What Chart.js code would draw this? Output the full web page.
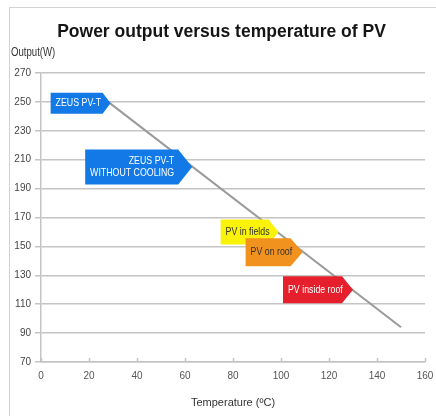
<!DOCTYPE html>
<html>
<head>
<meta charset="utf-8">
<script src="https://cdn.jsdelivr.net/npm/chart.js@4.4.1/dist/chart.umd.min.js"></script>
<style>
  html, body { margin: 0; padding: 0; background: #fff; }
  #wrap { width: 436px; height: 416px; }
</style>
</head>
<body>
<div id="wrap"><canvas id="pvChart" width="436" height="416"></canvas></div>
<script>
// Line endpoints: temperature (ºC) vs output (W)
const lineTemps = [28, 150];
const lineOutputs = [250, 94];

// Callouts, tip placed at (temperature, output)
const calloutLabels = [['ZEUS PV-T'], ['ZEUS PV-T', 'WITHOUT COOLING'], ['PV in fields'], ['PV on roof'], ['PV inside roof']];
const calloutTemps = [29, 63, 99, 109, 130];
const calloutOutputs = [249, 205, 160, 146, 120];

const yTicks = [70, 90, 110, 130, 150, 170, 190, 210, 230, 250, 270];
const xTicks = [0, 20, 40, 60, 80, 100, 120, 140, 160];

// box styles for the callouts (width, height, tip length, fill, text colour, align)
const calloutStyles = [
  { w: 60, h: 21, tip: 8, fill: '#1279e6', color: '#fff', align: 'left' },
  { w: 107, h: 35, tip: 14, fill: '#1279e6', color: '#fff', align: 'right' },
  { w: 58, h: 25, tip: 10, fill: '#fbf20a', color: '#333', align: 'left' },
  { w: 57, h: 28, tip: 12, fill: '#f2921e', color: '#333', align: 'left' },
  { w: 70, h: 27, tip: 11, fill: '#e51f2b', color: '#fff', align: 'left' }
];

const sans = "'Liberation Sans', Arial, sans-serif";

// draw text squeezed horizontally, the original uses a condensed face
function narrowText(ctx, text, x, y, align) {
  ctx.save();
  ctx.translate(x, y);
  ctx.scale(0.8, 1);
  ctx.textAlign = align;
  ctx.fillText(text, 0, 0);
  ctx.restore();
}

const calloutPlugin = {
  id: 'callouts',
  beforeDraw(chart) {
    const ctx = chart.ctx;
    ctx.save();
    ctx.strokeStyle = '#d2d2d2';
    ctx.lineWidth = 1;
    ctx.strokeRect(9.5, 7.5, 600, 600);
    ctx.fillStyle = '#333';
    ctx.font = "12px " + sans;
    ctx.textBaseline = 'middle';
    narrowText(ctx, 'Output(W)', 11, 53, 'left');
    ctx.restore();
  },
  afterDatasetsDraw(chart) {
    const ctx = chart.ctx;
    const xs = chart.scales.x, ys = chart.scales.y;
    ctx.save();
    // small tick marks standing up from the x axis
    ctx.strokeStyle = '#c4c4c4';
    ctx.lineWidth = 1.5;
    xTicks.forEach(v => {
      const px = Math.round(xs.getPixelForValue(v)) + 0.5;
      ctx.beginPath();
      ctx.moveTo(px, ys.bottom);
      ctx.lineTo(px, ys.bottom - 4);
      ctx.stroke();
    });
    calloutLabels.forEach((lines, i) => {
      const st = calloutStyles[i];
      const tx = xs.getPixelForValue(calloutTemps[i]);
      const ty = ys.getPixelForValue(calloutOutputs[i]);
      const left = tx - st.w, top = ty - st.h / 2, bottom = ty + st.h / 2;
      const rectRight = tx - st.tip;
      ctx.beginPath();
      ctx.moveTo(left, top);
      ctx.lineTo(rectRight, top);
      ctx.lineTo(tx, ty);
      ctx.lineTo(rectRight, bottom);
      ctx.lineTo(left, bottom);
      ctx.closePath();
      ctx.fillStyle = st.fill;
      ctx.fill();
      ctx.fillStyle = st.color;
      ctx.font = "11px " + sans;
      ctx.textBaseline = 'middle';
      const lh = 12;
      const y0 = ty - (lines.length - 1) * lh / 2;
      lines.forEach((t, j) => {
        if (st.align === 'right') {
          narrowText(ctx, t, rectRight - 4, y0 + j * lh, 'right');
        } else {
          narrowText(ctx, t, left + 5, y0 + j * lh, 'left');
        }
      });
    });
    ctx.restore();
  }
};

const ctx = document.getElementById('pvChart').getContext('2d');
const pvChart = new Chart(ctx, {
  type: 'line',
  data: {
    datasets: [{
      label: 'Output',
      data: lineTemps.map((t, i) => ({ x: t, y: lineOutputs[i] })),
      borderColor: '#9a9a9a',
      borderWidth: 2,
      pointRadius: 0,
      tension: 0
    }]
  },
  options: {
    responsive: false,
    animation: false,
    layout: { padding: { left: 10, right: 3, top: 0, bottom: 0 } },
    plugins: {
      legend: { display: false },
      tooltip: { enabled: false },
      title: {
        display: true,
        text: 'Power output versus temperature of PV',
        color: '#151515',
        font: { family: sans, size: 17.5, weight: 'bold' },
        padding: { top: 22, bottom: 30 }
      }
    },
    scales: {
      x: {
        type: 'linear',
        min: 0,
        max: 160,
        afterBuildTicks: (s) => { s.ticks = xTicks.map(v => ({ value: v })); },
        afterFit: (s) => { s.height = 54; s.paddingRight = 11; s.paddingLeft = 0; },
        ticks: { color: '#555', font: { size: 10 }, padding: 8 },
        grid: { drawOnChartArea: false, drawTicks: false, color: '#c4c4c4', lineWidth: 1.5 },
        border: { color: '#c4c4c4', width: 1.5 },
        title: {
          display: true,
          text: 'Temperature (ºC)',
          color: '#333',
          font: { family: sans, size: 11 },
          padding: { top: 0, bottom: 6 }
        }
      },
      y: {
        min: 70,
        max: 270,
        afterBuildTicks: (s) => { s.ticks = yTicks.map(v => ({ value: v })); },
        afterFit: (s) => { s.width = 31; },
        ticks: { color: '#444', font: { size: 10 }, padding: 4 },
        grid: { color: '#c4c4c4', lineWidth: 1.5, tickLength: 6 },
        border: { color: '#c4c4c4', width: 1.5 }
      }
    }
  },
  plugins: [calloutPlugin]
});
</script>
</body>
</html>
